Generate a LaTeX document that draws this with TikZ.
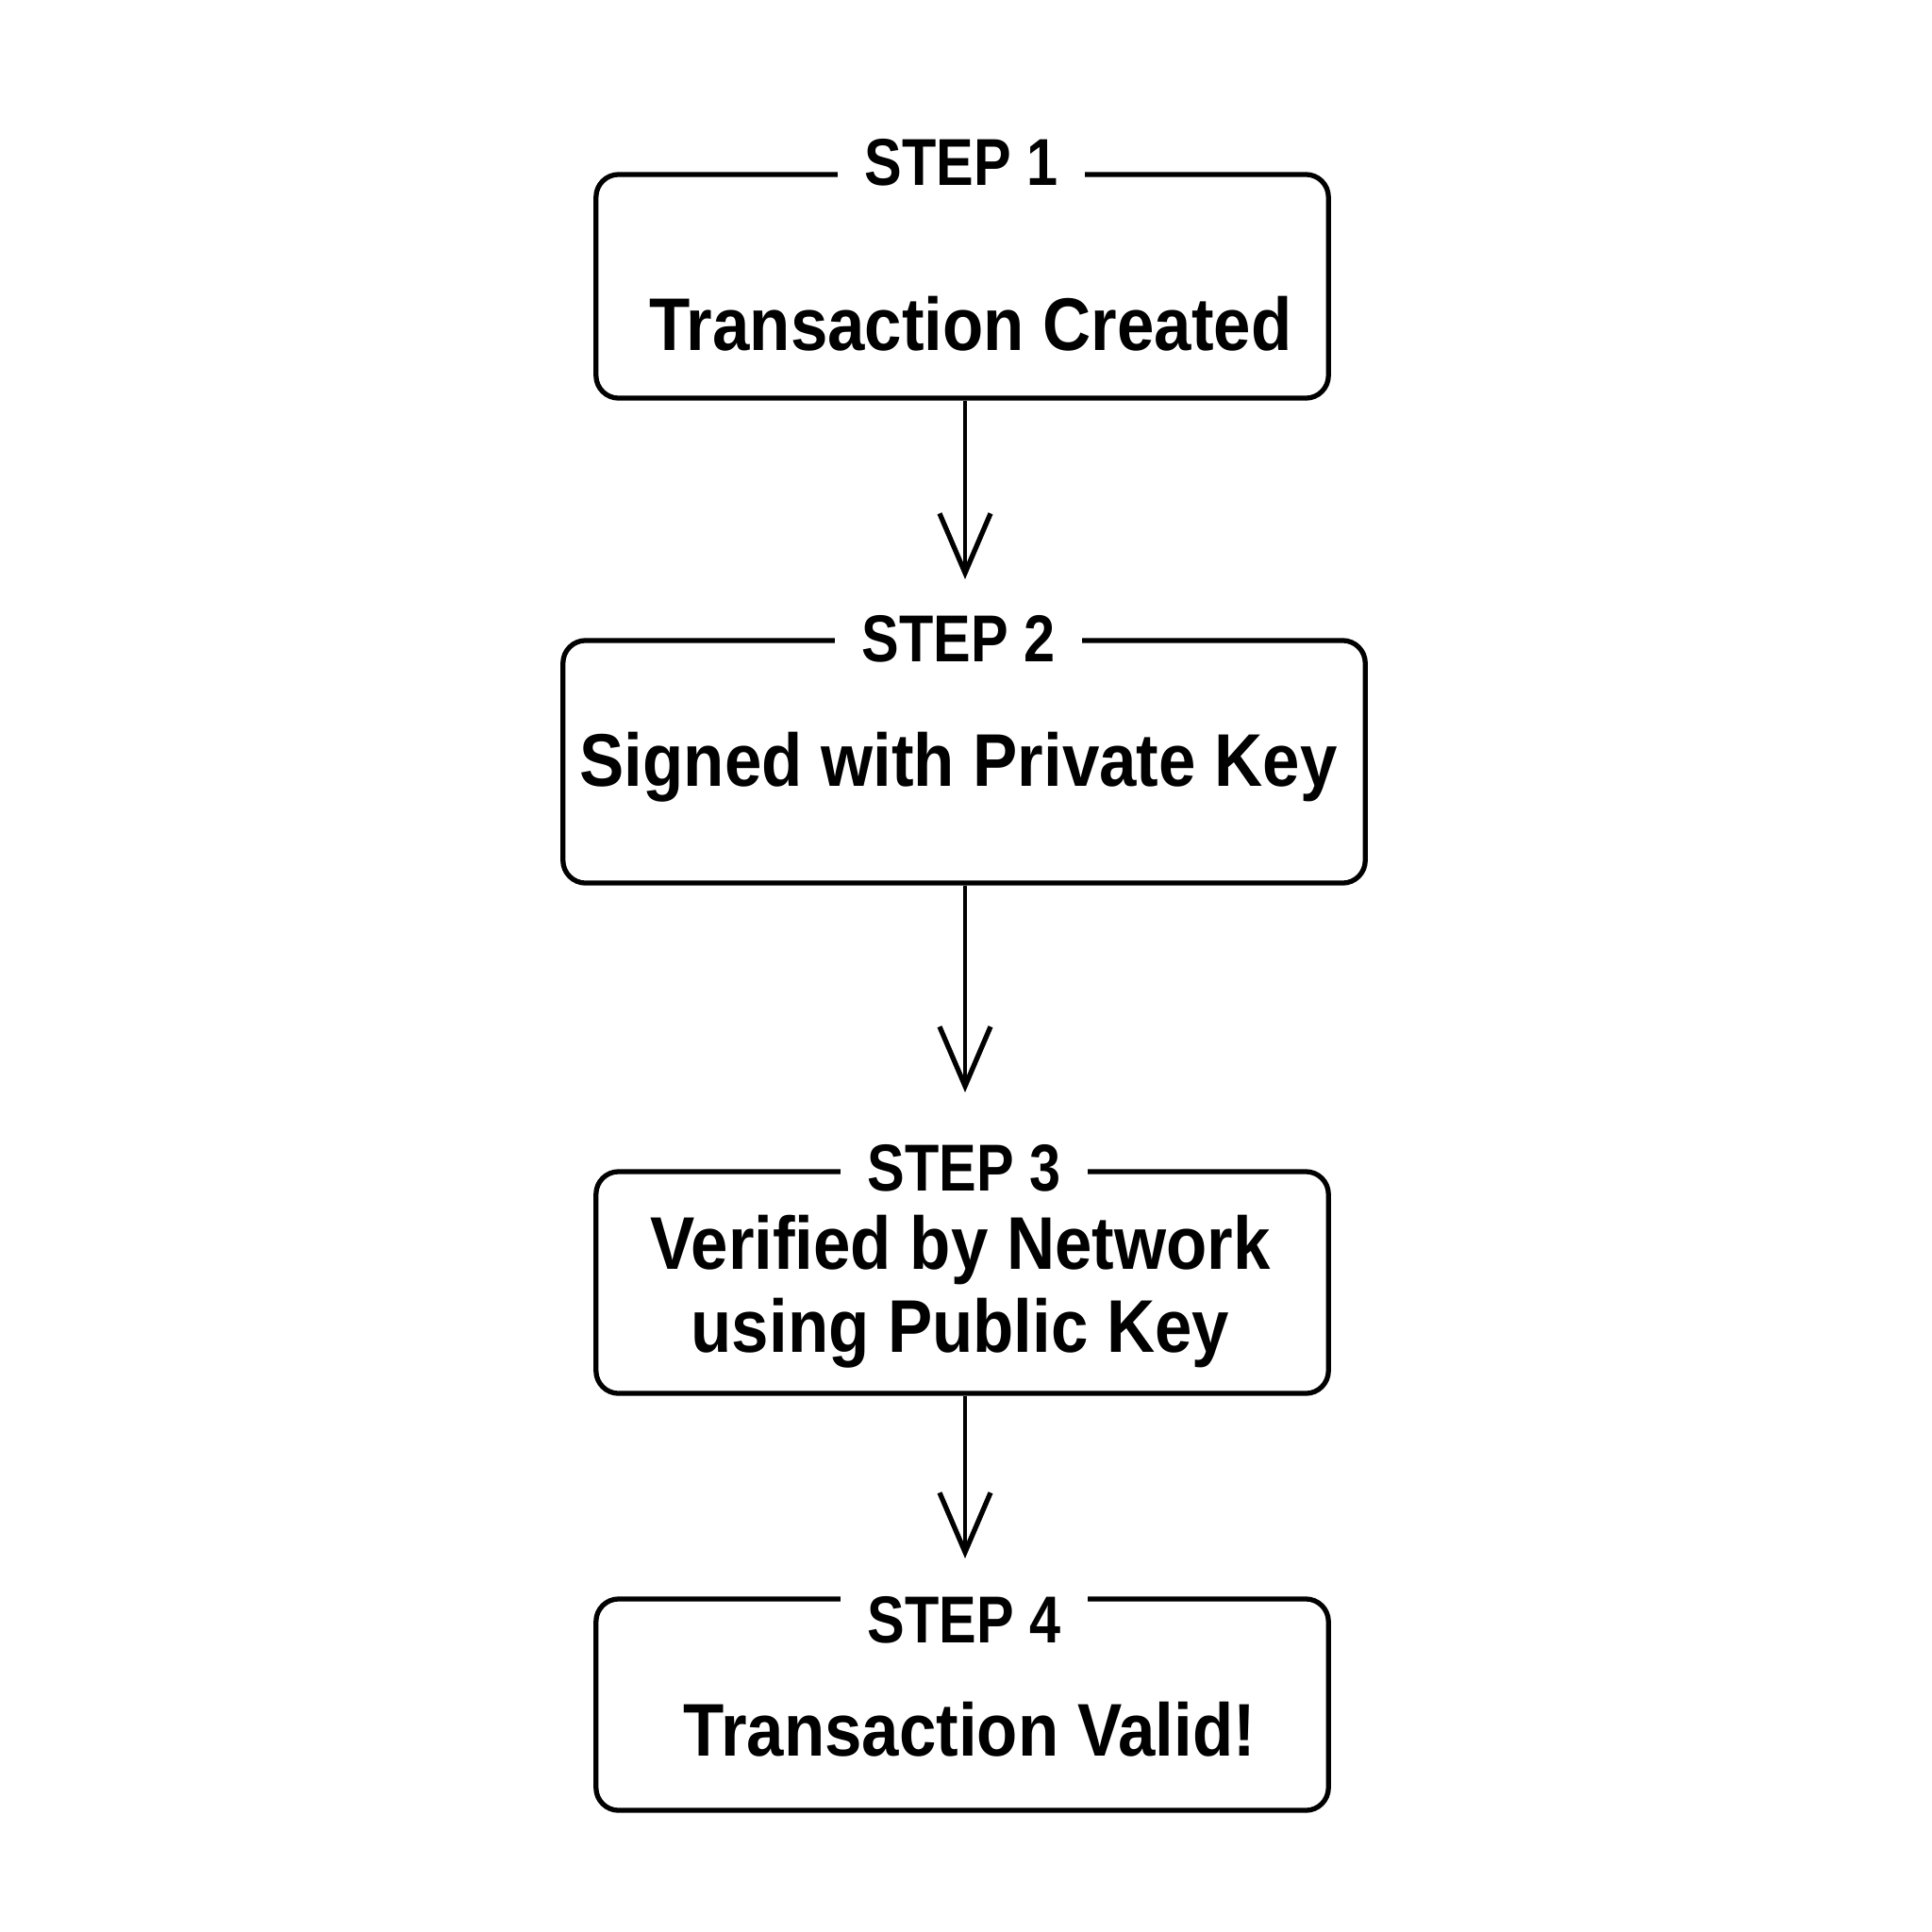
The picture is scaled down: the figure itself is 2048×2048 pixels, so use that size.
\documentclass[tikz,border=0pt]{standalone}
\usepackage{fontspec}
\setmainfont{Liberation Sans}[FakeStretch=0.895]
\newfontfamily\labelfont{Liberation Sans}[FakeStretch=0.845]
\usetikzlibrary{arrows.meta}
\tikzset{
  stepbox/.style={draw=black, line width=1.5pt, rounded corners=0.24cm, inner sep=0pt},
  steplabel/.style={fill=white, inner xsep=0.29cm, inner ysep=0.06cm, anchor=base,
    font=\labelfont\bfseries\fontsize{20}{24}\selectfont},
  boxtext/.style={anchor=base, align=center, font=\bfseries\fontsize{22.5}{25}\selectfont},
  arr/.style={line width=1.4pt, -{Straight Barb[length=0.63cm, width=0.54cm, line width=1.5pt]}}
}
\begin{document}
\begin{tikzpicture}[x=0.01cm,y=-0.01cm]
\fill[white] (0,0) rectangle (2048,2048);
\useasboundingbox (0,0) rectangle (2048,2048);

\node[stepbox, minimum width=7.76cm, minimum height=2.37cm] (box1) at (1020,303.5) {};
\node[stepbox, minimum width=8.50cm, minimum height=2.57cm] (box2) at (1022,807.5) {};
\node[stepbox, minimum width=7.76cm, minimum height=2.35cm] (box3) at (1020,1359.5) {};
\node[stepbox, minimum width=7.76cm, minimum height=2.24cm] (box4) at (1020,1807) {};

\node[steplabel] (lab1) at (1019,196) {STEP 1};
\node[steplabel] (lab2) at (1016,701) {STEP 2};
\node[steplabel] (lab3) at (1022,1262) {STEP 3};
\node[steplabel] (lab4) at (1022,1741) {STEP 4};

\node[boxtext] (txt1) at (1029,371) {Transaction Created};
\node[boxtext] (txt2) at (1016,833) {Signed with Private Key};
\node[boxtext] (txt3) at (1018,1433) {Verified by Network\\using Public Key};
\node[boxtext] (txt4) at (1028,1861) {Transaction Valid!};

\coordinate (t1) at (1023,614);
\coordinate (t2) at (1023,1158);
\coordinate (t3) at (1023,1652);

\draw[arr] (box1.south -| t1) -- (t1);
\draw[arr] (box2.south -| t2) -- (t2);
\draw[arr] (box3.south -| t3) -- (t3);
\end{tikzpicture}
\end{document}
